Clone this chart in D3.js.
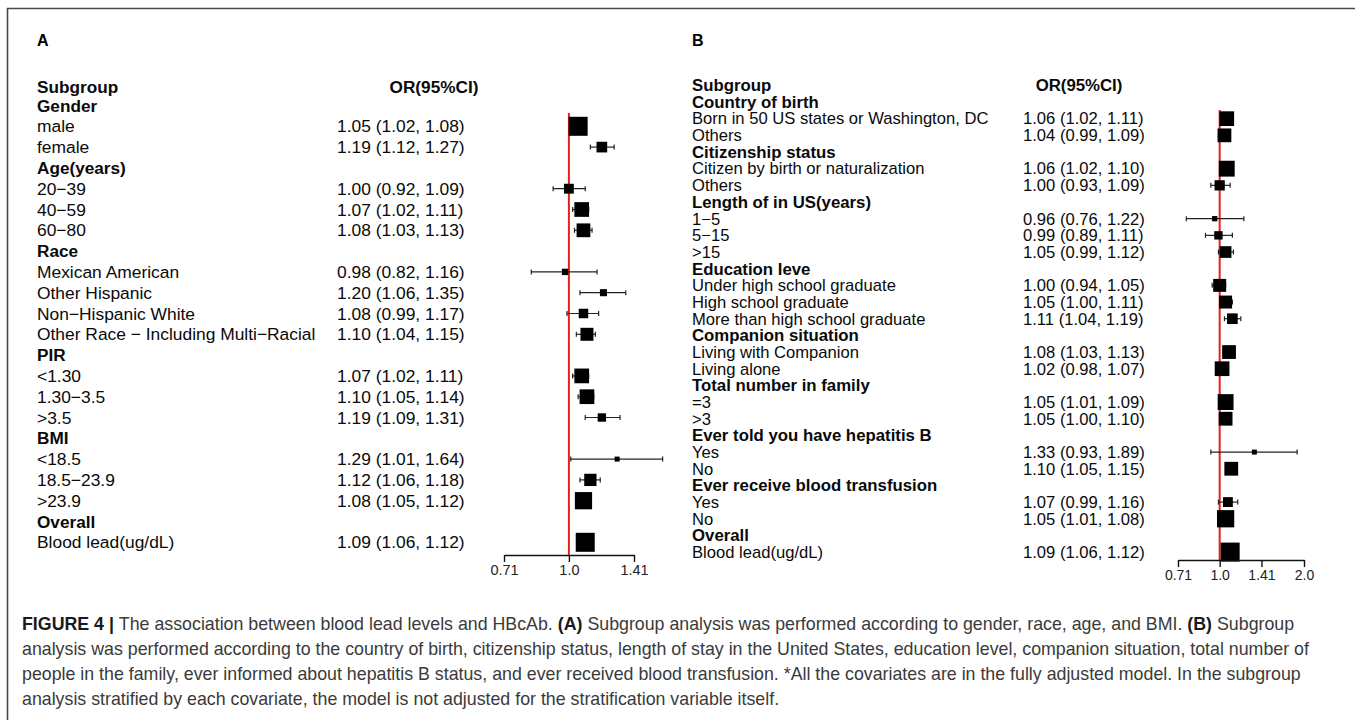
<!DOCTYPE html>
<html>
<head>
<meta charset="utf-8">
<script src="https://cdn.jsdelivr.net/npm/d3@7"></script>
<style>
  body { margin: 0; background: #fff; }
  svg { display: block; }
  text { font-family: "Liberation Sans", Arial, Helvetica, sans-serif; }
</style>
</head>
<body>
<svg id="fig" width="1355" height="720"></svg>
<script>
// ---- Panel A: subgroups by gender, age, race, PIR, BMI (null = section heading) ----
const labelsA = ["Gender", "male", "female", "Age(years)", "20\u221239", "40\u221259", "60\u221280",
  "Race", "Mexican American", "Other Hispanic", "Non\u2212Hispanic White",
  "Other Race \u2212 Including Multi\u2212Racial", "PIR", "<1.30", "1.30\u22123.5", ">3.5",
  "BMI", "<18.5", "18.5\u221223.9", ">23.9", "Overall", "Blood lead(ug/dL)"];
const orA    = [null, 1.05, 1.19, null, 1.00, 1.07, 1.08, null, 0.98, 1.20, 1.08, 1.10, null, 1.07, 1.10, 1.19, null, 1.29, 1.12, 1.08, null, 1.09];
const lowerA = [null, 1.02, 1.12, null, 0.92, 1.02, 1.03, null, 0.82, 1.06, 0.99, 1.04, null, 1.02, 1.05, 1.09, null, 1.01, 1.06, 1.05, null, 1.06];
const upperA = [null, 1.08, 1.27, null, 1.09, 1.11, 1.13, null, 1.16, 1.35, 1.17, 1.15, null, 1.11, 1.14, 1.31, null, 1.64, 1.18, 1.12, null, 1.12];
const ticksA = [0.71, 1.0, 1.41];
const tickLabelsA = ["0.71", "1.0", "1.41"];

// ---- Panel B: subgroups by birth country, citizenship, residence, education, etc. ----
const labelsB = ["Country of birth", "Born in 50 US states or Washington, DC", "Others",
  "Citizenship status", "Citizen by birth or naturalization", "Others",
  "Length of in US(years)", "1\u22125", "5\u221215", ">15",
  "Education leve", "Under high school graduate", "High school graduate", "More than high school graduate",
  "Companion situation", "Living with Companion", "Living alone",
  "Total number in family", "=3", ">3",
  "Ever told you have hepatitis B", "Yes", "No",
  "Ever receive blood transfusion", "Yes", "No",
  "Overall", "Blood lead(ug/dL)"];
const orB    = [null, 1.06, 1.04, null, 1.06, 1.00, null, 0.96, 0.99, 1.05, null, 1.00, 1.05, 1.11, null, 1.08, 1.02, null, 1.05, 1.05, null, 1.33, 1.10, null, 1.07, 1.05, null, 1.09];
const lowerB = [null, 1.02, 0.99, null, 1.02, 0.93, null, 0.76, 0.89, 0.99, null, 0.94, 1.00, 1.04, null, 1.03, 0.98, null, 1.01, 1.00, null, 0.93, 1.05, null, 0.99, 1.01, null, 1.06];
const upperB = [null, 1.11, 1.09, null, 1.10, 1.09, null, 1.22, 1.11, 1.12, null, 1.05, 1.11, 1.19, null, 1.13, 1.07, null, 1.09, 1.10, null, 1.89, 1.15, null, 1.16, 1.08, null, 1.12];
const ticksB = [0.71, 1.0, 1.41, 2.0];
const tickLabelsB = ["0.71", "1.0", "1.41", "2.0"];

const captionLines = [
  [["FIGURE 4 | ", true], ["The association between blood lead levels and HBcAb. ", false], ["(A)", true],
   [" Subgroup analysis was performed according to gender, race, age, and BMI. ", false], ["(B)", true], [" Subgroup", false]],
  [["analysis was performed according to the country of birth, citizenship status, length of stay in the United States, education level, companion situation, total number of", false]],
  [["people in the family, ever informed about hepatitis B status, and ever received blood transfusion. *All the covariates are in the fully adjusted model. In the subgroup", false]],
  [["analysis stratified by each covariate, the model is not adjusted for the stratification variable itself.", false]]
];

const svg = d3.select("#fig");
const fmt = d3.format(".2f");

// frame of the figure box
svg.append("line").attr("x1", 7).attr("x2", 1355).attr("y1", 8.5).attr("y2", 8.5)
  .attr("stroke", "#4a4a4a").attr("stroke-width", 1.6);
svg.append("line").attr("x1", 7.5).attr("x2", 7.5).attr("y1", 8).attr("y2", 720)
  .attr("stroke", "#4a4a4a").attr("stroke-width", 1.6);

function drawPanel(p) {
  const g = svg.append("g");
  const x = d3.scaleLog().domain([p.ticks[0], p.ticks[p.ticks.length - 1]]).range(p.xRange);
  const rowY = i => p.firstRowY + i * p.rowStep;

  // panel letter
  g.append("text").attr("x", p.letterX).attr("y", p.letterY)
    .attr("font-size", 16).attr("font-weight", "bold").attr("fill", "#000").text(p.letter);

  // column headings
  g.append("text").attr("x", p.labelX).attr("y", p.headY).attr("dy", "0.35em")
    .attr("font-size", p.headSize).attr("font-weight", "bold").attr("fill", "#0a0a0a").text("Subgroup");
  g.append("text").attr("x", p.orHeadX).attr("y", p.headY).attr("dy", "0.35em").attr("text-anchor", "middle")
    .attr("font-size", p.headSize).attr("font-weight", "bold").attr("fill", "#0a0a0a").text("OR(95%CI)");

  const rows = p.labels.map((lab, i) => ({ lab, or: p.or[i], lo: p.lower[i], hi: p.upper[i], y: rowY(i) }));

  // row labels and estimate text
  g.selectAll("text.lab").data(rows).join("text").attr("class", "lab")
    .attr("x", p.labelX).attr("y", d => d.y).attr("dy", "0.35em")
    .attr("font-size", d => d.or == null ? p.headSize : p.fontSize)
    .attr("font-weight", d => d.or == null ? "bold" : "normal")
    .attr("fill", "#0a0a0a").text(d => d.lab);
  const est = rows.filter(d => d.or != null);
  g.selectAll("text.val").data(est).join("text").attr("class", "val")
    .attr("x", p.valueX).attr("y", d => d.y).attr("dy", "0.35em")
    .attr("font-size", p.fontSize).attr("fill", "#0a0a0a")
    .text(d => `${fmt(d.or)} (${fmt(d.lo)}, ${fmt(d.hi)})`);

  // reference line at OR = 1
  g.append("line").attr("x1", x(1)).attr("x2", x(1)).attr("y1", p.refTop).attr("y2", p.axisY)
    .attr("stroke", "#e8201c").attr("stroke-width", 2);

  // confidence intervals with end caps
  const ci = g.selectAll("g.ci").data(est).join("g").attr("class", "ci");
  ci.append("line").attr("x1", d => x(d.lo)).attr("x2", d => x(d.hi)).attr("y1", d => d.y).attr("y2", d => d.y)
    .attr("stroke", "#222").attr("stroke-width", 1.2);
  ci.append("line").attr("x1", d => x(d.lo)).attr("x2", d => x(d.lo)).attr("y1", d => d.y - 2.5).attr("y2", d => d.y + 2.5)
    .attr("stroke", "#222").attr("stroke-width", 1.2);
  ci.append("line").attr("x1", d => x(d.hi)).attr("x2", d => x(d.hi)).attr("y1", d => d.y - 2.5).attr("y2", d => d.y + 2.5)
    .attr("stroke", "#222").attr("stroke-width", 1.2);

  // boxes sized by precision (narrower interval -> larger box)
  const minW = d3.min(est, d => d.hi - d.lo);
  const boxSize = d => Math.max(5, 19 * Math.pow(minW / (d.hi - d.lo), 0.63));
  g.selectAll("rect.box").data(est).join("rect").attr("class", "box")
    .attr("x", d => x(d.or) - boxSize(d) / 2).attr("y", d => d.y - boxSize(d) / 2)
    .attr("width", boxSize).attr("height", boxSize).attr("fill", "#000");

  // axis
  const ax = g.append("g").attr("transform", `translate(0,${p.axisY})`)
    .call(d3.axisBottom(x).tickValues(p.ticks).tickFormat((d, i) => p.tickLabels[i])
      .tickSizeOuter(0).tickSizeInner(7).tickPadding(3));
  ax.attr("font-family", null);
  ax.select(".domain").attr("stroke", "#111").attr("stroke-width", 1.4);
  ax.selectAll(".tick line").attr("stroke", "#111").attr("stroke-width", 1.4);
  ax.selectAll(".tick text").attr("font-size", p.tickSize).attr("fill", "#222");
}

drawPanel({
  letter: "A", letterX: 37, letterY: 46,
  labels: labelsA, or: orA, lower: lowerA, upper: upperA,
  ticks: ticksA, tickLabels: tickLabelsA,
  labelX: 37, valueX: 337, orHeadX: 434, headY: 87,
  firstRowY: 105.5, rowStep: 20.8, fontSize: 17.4, headSize: 17.2,
  xRange: [504, 634], axisY: 555, refTop: 113, tickSize: 14.5
});

drawPanel({
  letter: "B", letterX: 692, letterY: 46,
  labels: labelsB, or: orB, lower: lowerB, upper: upperB,
  ticks: ticksB, tickLabels: tickLabelsB,
  labelX: 692, valueX: 1023, orHeadX: 1079, headY: 85.5,
  firstRowY: 102, rowStep: 16.67, fontSize: 16.6, headSize: 16.8,
  xRange: [1178, 1304], axisY: 560, refTop: 110, tickSize: 14
});

// caption
const cap = svg.append("g").attr("fill", "#3a3a3a");
captionLines.forEach((parts, i) => {
  const t = cap.append("text").attr("x", 22).attr("y", 630 + i * 25).attr("font-size", 17.8);
  parts.forEach(([s, bold]) => {
    t.append("tspan").attr("font-weight", bold ? "bold" : "normal").attr("fill", bold ? "#1a1a1a" : "#3a3a3a").text(s);
  });
});
</script>
</body>
</html>
